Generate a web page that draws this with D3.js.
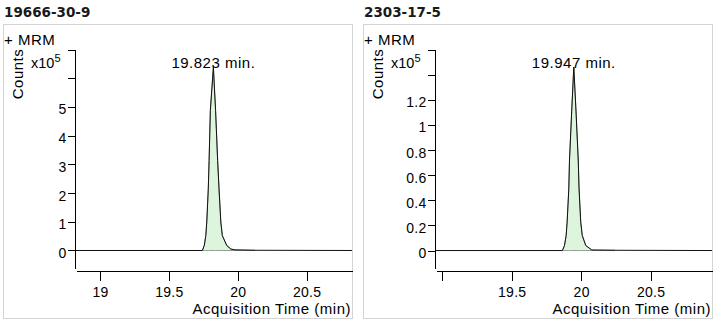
<!DOCTYPE html>
<html>
<head>
<meta charset="utf-8">
<script src="https://cdn.jsdelivr.net/npm/d3@7"></script>
<style>
  html, body { margin: 0; padding: 0; background: #fff; }
  svg { display: block; }
  text { font-family: "Liberation Sans", Arial, sans-serif; fill: #000; }
  .wide { letter-spacing: 0.5px; }
</style>
</head>
<body>
<svg id="chart" width="720" height="324"></svg>
<script>
// Compound names (panel headings) and retention-time labels
const compounds = ["19666-30-9", "2303-17-5"];
const peakLabels = ["19.823 min.", "19.947 min."];
const peakTimes = [19.823, 19.947];

// MRM trace for 19666-30-9: time (min) and counts (x10^5)
const timeA   = [18.826, 19.743, 19.757, 19.768, 19.775, 19.786, 19.792, 19.801, 19.823,
                 19.839, 19.854, 19.864, 19.877, 19.888, 19.920, 19.950, 19.980, 20.126, 20.829];
const countsA = [0, 0, 0.174, 0.52, 0.99, 2.15, 3.13, 4.88, 6.38,
                 4.88, 3.13, 2.15, 0.99, 0.52, 0.174, 0.05, 0.02, 0.008, 0];
// Integrated peak window for 19666-30-9
const windowA = [19.743, 20.126];

// MRM trace for 2303-17-5: time (min) and counts (x10^5)
const timeB   = [18.955, 19.865, 19.880, 19.892, 19.899, 19.911, 19.916, 19.932, 19.947,
                 19.963, 19.979, 19.985, 19.997, 20.008, 20.033, 20.077, 20.245, 20.942];
const countsB = [0, 0, 0.04, 0.12, 0.225, 0.49, 0.72, 1.11, 1.46,
                 1.11, 0.72, 0.49, 0.225, 0.12, 0.04, 0.004, 0.002, 0];
const windowB = [19.865, 20.245];

// Axis ticks and the tick labels that are printed
const xTicks = [19, 19.5, 20, 20.5];
const xTickLabelsA = ["19", "19.5", "20", "20.5"];
const xTickLabelsB = ["", "19.5", "20", "20.5"];
const yTicksA = [0, 1, 2, 3, 4, 5, 6, 7];
const yTickLabelsA = ["0", "1", "2", "3", "4", "5", "", ""];
const yTicksB = [0, 0.2, 0.4, 0.6, 0.8, 1, 1.2, 1.4, 1.6];
const yTickLabelsB = ["0", "0.2", "0.4", "0.6", "0.8", "1", "1.2", "", ""];

// Visible axis ranges
const xDomainA = [18.826, 20.829];
const xDomainB = [18.955, 20.942];
const yDomainA = [-0.627, 7];
const yDomainB = [-0.143, 1.6];

const panels = [
  { title: compounds[0], label: peakLabels[0], apex: peakTimes[0], time: timeA, counts: countsA,
    win: windowA, xDomain: xDomainA, yDomain: yDomainA, yTicks: yTicksA, yLabels: yTickLabelsA,
    xLabels: xTickLabelsA },
  { title: compounds[1], label: peakLabels[1], apex: peakTimes[1], time: timeB, counts: countsB,
    win: windowB, xDomain: xDomainB, yDomain: yDomainB, yTicks: yTicksB, yLabels: yTickLabelsB,
    xLabels: xTickLabelsB }
];

const svg = d3.select("#chart");

panels.forEach((p, i) => {
  const ox = i * 360;
  const g = svg.append("g").attr("transform", `translate(${ox},0)`);

  // heading above the frame
  g.append("text")
    .attr("x", 4).attr("y", 17)
    .style("font-family", "'DejaVu Sans', sans-serif")
    .style("font-weight", "bold")
    .style("font-size", "13.5px")
    .style("fill", "#1a1a1a")
    .text(p.title);

  // frame
  g.append("rect")
    .attr("x", 3.5).attr("y", 24.5)
    .attr("width", 349).attr("height", 294)
    .attr("fill", "none")
    .attr("stroke", "#d4d4d4");

  g.append("text").attr("class", "wide").attr("x", 4).attr("y", 44.5)
    .style("font-size", "15px").text("+ MRM");

  // y-axis title and multiplier
  g.append("text")
    .attr("class", "wide")
    .attr("transform", "translate(22.5,74) rotate(-90)")
    .attr("text-anchor", "middle")
    .style("font-size", "15px")
    .text("Counts");
  const mult = g.append("text").attr("x", 31).attr("y", 68).style("font-size", "14.5px");
  mult.append("tspan").text("x10");
  mult.append("tspan").attr("dy", -6).style("font-size", "11px").text("5");

  // scales
  const x = d3.scaleLinear().domain(p.xDomain).range([76, 352]);
  const y = d3.scaleLinear().domain(p.yDomain).range([268.5, 49.5]);

  // integrated peak area
  const inWin = p.time.map((t, k) => ({ t, c: p.counts[k] }))
    .filter(d => d.t >= p.win[0] && d.t <= p.win[1]);
  const area = d3.area().x(d => x(d.t)).y0(y(0)).y1(d => y(d.c));
  g.append("path")
    .datum(inWin)
    .attr("d", area)
    .attr("fill", "#dcf5dc")
    .attr("stroke", "#8c9a8c")
    .attr("stroke-width", 1);

  // chromatogram trace
  const line = d3.line().x(d => x(d.t)).y(d => y(d.c));
  g.append("path")
    .datum(p.time.map((t, k) => ({ t, c: p.counts[k] })))
    .attr("d", line)
    .attr("fill", "none")
    .attr("stroke", "#111")
    .attr("stroke-width", 1);

  // y axis
  const yAxis = d3.axisLeft(y)
    .tickValues(p.yTicks)
    .tickFormat((d, k) => p.yLabels[k])
    .tickSize(7).tickSizeOuter(0).tickPadding(1);
  const ya = g.append("g").attr("transform", "translate(74.5,0)").call(yAxis);
  ya.selectAll("path, line").attr("stroke", "#000").attr("shape-rendering", "crispEdges");
  ya.selectAll("text").style("font-size", "14px").style("letter-spacing", "0.3px")
    .attr("dy", "0.5em").attr("fill", "#000");

  // x axis
  const xAxis = d3.axisBottom(x)
    .tickValues(xTicks)
    .tickFormat((d, k) => p.xLabels[k])
    .tickSize(10).tickSizeOuter(0).tickPadding(7);
  const xa = g.append("g").attr("transform", "translate(0,270.5)").call(xAxis);
  xa.selectAll("path, line").attr("stroke", "#000").attr("shape-rendering", "crispEdges");
  xa.selectAll("text").style("font-size", "14px").style("letter-spacing", "0.3px").attr("fill", "#000");

  g.append("text")
    .attr("class", "wide")
    .attr("x", 351).attr("y", 314)
    .attr("text-anchor", "end")
    .style("font-size", "15px")
    .text("Acquisition Time (min)");

  // retention-time label at the apex
  const apexCount = d3.max(p.counts);
  g.append("text")
    .attr("class", "wide")
    .attr("x", x(p.apex)).attr("y", y(apexCount) + 1)
    .attr("text-anchor", "middle")
    .style("font-size", "15px")
    .text(p.label);
});
</script>
</body>
</html>
